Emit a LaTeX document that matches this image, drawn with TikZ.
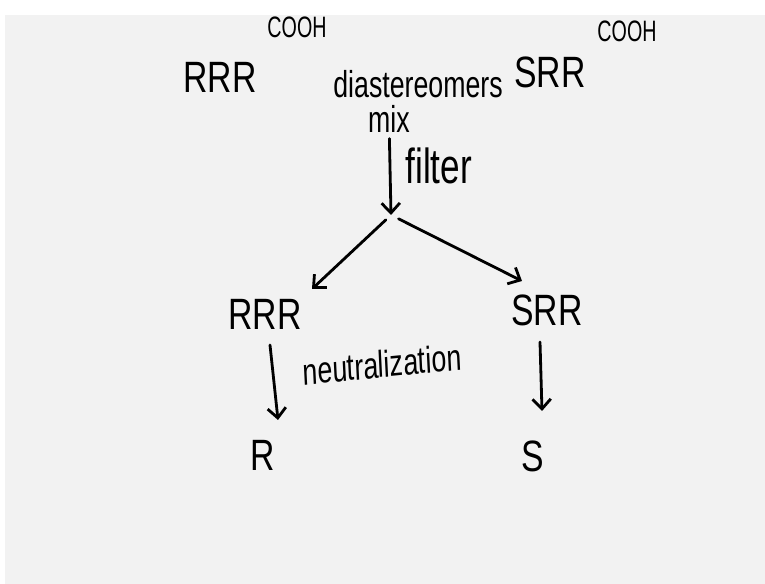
\documentclass[tikz,border=0pt]{standalone}
\usepackage{fontspec}
\setmainfont{Liberation Sans}
\usetikzlibrary{arrows.meta}
\tikzset{>={Straight Barb[length=7pt,width=13pt]}}

\begin{document}
\begin{tikzpicture}[x=0.025cm,y=-0.025cm,
    big/.style={font=\fontsize{24}{28}\selectfont,inner sep=0pt,
      yscale=1.3,transform shape},
    word/.style={font=\fontsize{19}{22}\selectfont,inner sep=0pt,
      yscale=1.4,transform shape},
    acid/.style={font=\fontsize{14}{18}\selectfont,inner sep=0pt,
      yscale=1.5,transform shape},
    flow/.style={->,line width=2pt,line cap=round}]
      % sheet
      \fill[white] (0,0) rectangle (765,584);
      \fill[black!5] (5,15) rectangle (765,584);

      % top row
      \node[acid] (coohL) at (297,27) {COOH};
      \node[acid] (coohR) at (627,31) {COOH};
      \node[big] (rrrTop) at (220,77) {RRR};
      \node[big] (srrTop) at (550,72) {SRR};
      \node[word] (diast) at (418,84) {diastereomers};
      \node[word] (mix) at (389,119) {mix};

      % filtering
      \coordinate (fork) at (391,215);
      \draw[flow,shorten <=4pt] (mix) -- (fork)
        node[word,font=\fontsize{25}{28}\selectfont,pos=0.4,right=10pt]
        (filter) {filter};

      \node[big] (rrrSalt) at (265,314) {RRR};
      \node[big] (srrSalt) at (547,310) {SRR};
      \draw[flow,shorten <=5pt] (fork) -- ([shift={(47,-25)}]rrrSalt.center);
      \draw[flow,shorten <=6pt] (fork) -- ([shift={(-25,-29)}]srrSalt.center);

      % neutralization
      \node[big] (acidR) at (263,455) {R};
      \node[big] (acidS) at (533,456) {S};
      \draw[flow] ([shift={(5,31)}]rrrSalt.center) --
      ([shift={(15,-35)}]acidR.center);
      \node[word,rotate=4] (neutral) at (382,364) {neutralization};
      \draw[flow] ([shift={(-7,32)}]srrSalt.center) --
      ([shift={(9,-45)}]acidS.center);
    \end{tikzpicture}
\end{document}
